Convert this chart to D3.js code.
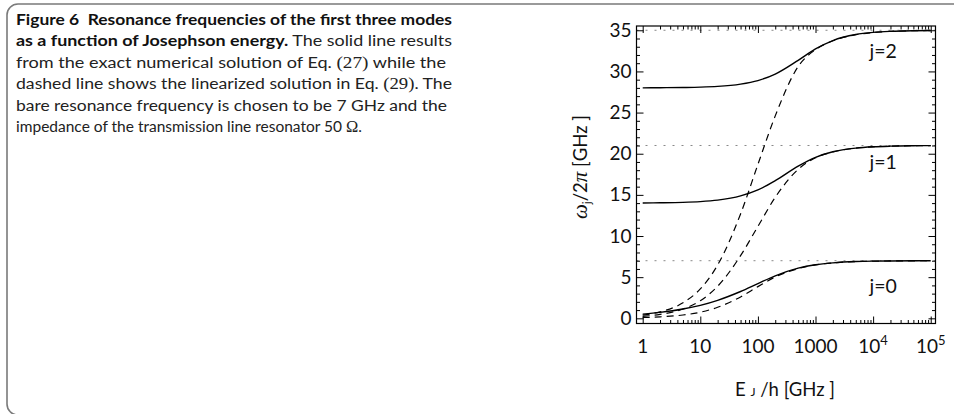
<!DOCTYPE html>
<html><head><meta charset="utf-8">
<script src="https://cdn.jsdelivr.net/npm/d3@7"></script>
<style>body{margin:0;background:#fff;} svg{display:block;}</style>
</head><body><svg id="c" width="954" height="414"></svg>
<script>
// ---- data ----
const energies = [1, 2, 5, 10, 20, 50, 100, 200, 500, 1000, 2000, 5000, 10000, 20000, 50000, 100000];
const exactJ0 = [0.51, 0.72, 1.13, 1.58, 2.19, 3.26, 4.22, 5.16, 6.09, 6.51, 6.74, 6.90, 6.95, 6.97, 6.99, 7.00];
const exactJ1 = [14.02, 14.04, 14.09, 14.18, 14.36, 14.87, 15.60, 16.72, 18.49, 19.56, 20.24, 20.68, 20.84, 20.92, 20.97, 20.99];
const exactJ2 = [28.00, 28.02, 28.05, 28.09, 28.18, 28.46, 28.89, 29.68, 31.35, 32.73, 33.75, 34.48, 34.74, 34.87, 34.95, 34.98];
const linJ0 = [0.10, 0.18, 0.40, 0.74, 1.34, 2.60, 3.85, 5.02, 6.04, 6.49, 6.73, 6.89, 6.95, 6.97, 6.99, 7.00];
const linJ1 = [0.24, 0.47, 1.13, 2.14, 3.89, 7.61, 11.17, 14.70, 18.10, 19.50, 20.22, 20.67, 20.84, 20.92, 20.97, 20.99];
const linJ2 = [0.39, 0.78, 1.88, 3.57, 6.48, 12.68, 18.70, 24.60, 30.60, 32.65, 33.72, 34.46, 34.73, 34.87, 34.95, 34.98];
const asymptotes = [7, 21, 35];
const modeLabels = ["j=0", "j=1", "j=2"];
const modeLabelPos = [[15000, 3.1], [15000, 18.1], [15000, 31.6]];
const yTicks = [0, 5, 10, 15, 20, 25, 30, 35];
const xTicks = [1, 10, 100, 1000, 10000, 100000];
const xTickLabels = [["1", ""], ["10", ""], ["100", ""], ["1000", ""], ["10", "4"], ["10", "5"]];
const captionLines = [
  [["Figure 6\u00A0\u00A0Resonance frequencies of the first three modes", "b"]],
  [["as a function of Josephson energy.", "b"], [" The solid line results", "r"]],
  [["from the exact numerical solution of Eq. ", "r"], ["(27)", "s"], [" while the", "r"]],
  [["dashed line shows the linearized solution in Eq. ", "r"], ["(29)", "s"], [". The", "r"]],
  [["bare resonance frequency is chosen to be 7 GHz and the", "r"]],
  [["impedance of the transmission line resonator 50\u00A0", "r"], ["\u03A9", "s"], [".", "r"]]
];
const captionWidths = [436, 436, 430, 436, 431, null];

// ---- drawing ----
const svg = d3.select("#c");
const SANS = "Lato, 'Open Sans', sans-serif";
const SERIF = "'Liberation Serif', 'DejaVu Serif', serif";

svg.append("rect").attr("x", 7).attr("y", 4).attr("width", 1000).attr("height", 411)
  .attr("rx", 11).attr("fill", "none").attr("stroke", "#7a7a7a").attr("stroke-width", 1.6);

// caption
const cap = svg.append("g");
captionLines.forEach((line, i) => {
  const t = cap.append("text").attr("x", 16).attr("y", 25 + i * 21.4)
    .attr("font-family", SANS).attr("font-size", 15.5).attr("fill", "#222");
  if (captionWidths[i]) t.attr("textLength", captionWidths[i]).attr("lengthAdjust", "spacingAndGlyphs");
  line.forEach(([s, k]) => {
    const ts = t.append("tspan").text(s);
    if (k === "b") ts.attr("font-weight", "bold").attr("fill", "#111");
    if (k === "s") ts.attr("font-family", SERIF).attr("font-size", 16.5);
  });
});

const m = {l: 636.5, r: 935.5, t: 26, b: 323.5};
const x = d3.scaleLog().domain([Math.pow(10, -0.1076), Math.pow(10, 5.083)]).range([m.l, m.r]);
const y = d3.scaleLinear().domain([-0.63, 35.52]).range([m.b, m.t]);

// dotted asymptotes
svg.append("g").selectAll("line").data(asymptotes).join("line")
  .attr("x1", m.l).attr("x2", m.r).attr("y1", d => y(d)).attr("y2", d => y(d))
  .attr("stroke", "#888").attr("stroke-width", 1).attr("stroke-dasharray", "2,7");

// curves
const line = d3.line().x(d => x(d[0])).y(d => y(d[1])).curve(d3.curveMonotoneX);
const pair = arr => energies.map((e, i) => [e, arr[i]]);
const plot = svg.append("g");
[linJ0, linJ1, linJ2].forEach(s => plot.append("path").attr("d", line(pair(s)))
  .attr("fill", "none").attr("stroke", "#000").attr("stroke-width", 1.2).attr("stroke-dasharray", "7,5"));
[exactJ0, exactJ1, exactJ2].forEach(s => plot.append("path").attr("d", line(pair(s)))
  .attr("fill", "none").attr("stroke", "#000").attr("stroke-width", 1.4));

// minor ticks
const minorX = [];
for (let d = 0; d < 6; d++) for (let k = 2; k <= 9; k++) { const v = k * Math.pow(10, d); if (v <= x.domain()[1]) minorX.push(v); }
const minorY = d3.range(0, 36).filter(v => v % 5 !== 0);

function axisG(axis, tr) { return svg.append("g").attr("transform", tr).call(axis)
  .call(g => g.select(".domain").remove()).call(g => g.selectAll("line").attr("stroke", "#000")); }

axisG(d3.axisBottom(x).tickValues(xTicks).tickSize(-7).tickFormat(() => ""), `translate(0,${m.b})`);
axisG(d3.axisBottom(x).tickValues(minorX).tickSize(-3.5).tickFormat(() => ""), `translate(0,${m.b})`);
axisG(d3.axisTop(x).tickValues(xTicks).tickSize(-7).tickFormat(() => ""), `translate(0,${m.t})`);
axisG(d3.axisTop(x).tickValues(minorX).tickSize(-3.5).tickFormat(() => ""), `translate(0,${m.t})`);
const yAx = axisG(d3.axisLeft(y).tickValues(yTicks).tickSize(-7).tickPadding(5), `translate(${m.l},0)`);
yAx.selectAll("text").attr("font-family", SANS).attr("font-size", 19).attr("fill", "#111");
axisG(d3.axisLeft(y).tickValues(minorY).tickSize(-3.5).tickFormat(() => ""), `translate(${m.l},0)`);
axisG(d3.axisRight(y).tickValues(yTicks).tickSize(-7).tickFormat(() => ""), `translate(${m.r},0)`);
axisG(d3.axisRight(y).tickValues(minorY).tickSize(-3.5).tickFormat(() => ""), `translate(${m.r},0)`);

// x tick labels
const xl = svg.append("g").attr("font-family", SANS).attr("font-size", 19).attr("fill", "#111");
xTicks.forEach((v, i) => {
  const t = xl.append("text").attr("x", x(v)).attr("y", 353).attr("text-anchor", "middle");
  t.append("tspan").text(xTickLabels[i][0]);
  if (xTickLabels[i][1]) t.append("tspan").attr("dy", -8).attr("font-size", 13).text(xTickLabels[i][1]);
});

// frame
svg.append("rect").attr("x", m.l).attr("y", m.t).attr("width", m.r - m.l).attr("height", m.b - m.t)
  .attr("fill", "none").attr("stroke", "#000").attr("stroke-width", 1.2);

// mode labels
svg.append("g").selectAll("text").data(modeLabels).join("text")
  .attr("x", (d, i) => x(modeLabelPos[i][0])).attr("y", (d, i) => y(modeLabelPos[i][1]))
  .attr("text-anchor", "middle").attr("font-family", SANS).attr("font-size", 19.5).attr("fill", "#111").text(d => d);

// x title
const xt = svg.append("text").attr("x", 785).attr("y", 396).attr("text-anchor", "middle")
  .attr("font-family", SANS).attr("font-size", 18.5).attr("fill", "#111");
xt.append("tspan").text("E ");
xt.append("tspan").attr("font-size", 12).text("J");
xt.append("tspan").text(" /h [GHz ]");

// y title
const yt = svg.append("text").attr("transform", "translate(587,167) rotate(-90)").attr("text-anchor", "middle")
  .attr("font-family", SANS).attr("font-size", 18.5).attr("fill", "#111");
yt.append("tspan").attr("font-family", SERIF).attr("font-style", "italic").attr("font-size", 21).text("\u03C9");
yt.append("tspan").attr("font-size", 12).attr("dy", 4).text("j");
yt.append("tspan").attr("dy", -4).text("/2");
yt.append("tspan").attr("font-family", SERIF).attr("font-style", "italic").attr("font-size", 21).text("\u03C0");
yt.append("tspan").text(" [GHz ]");
</script></body></html>
